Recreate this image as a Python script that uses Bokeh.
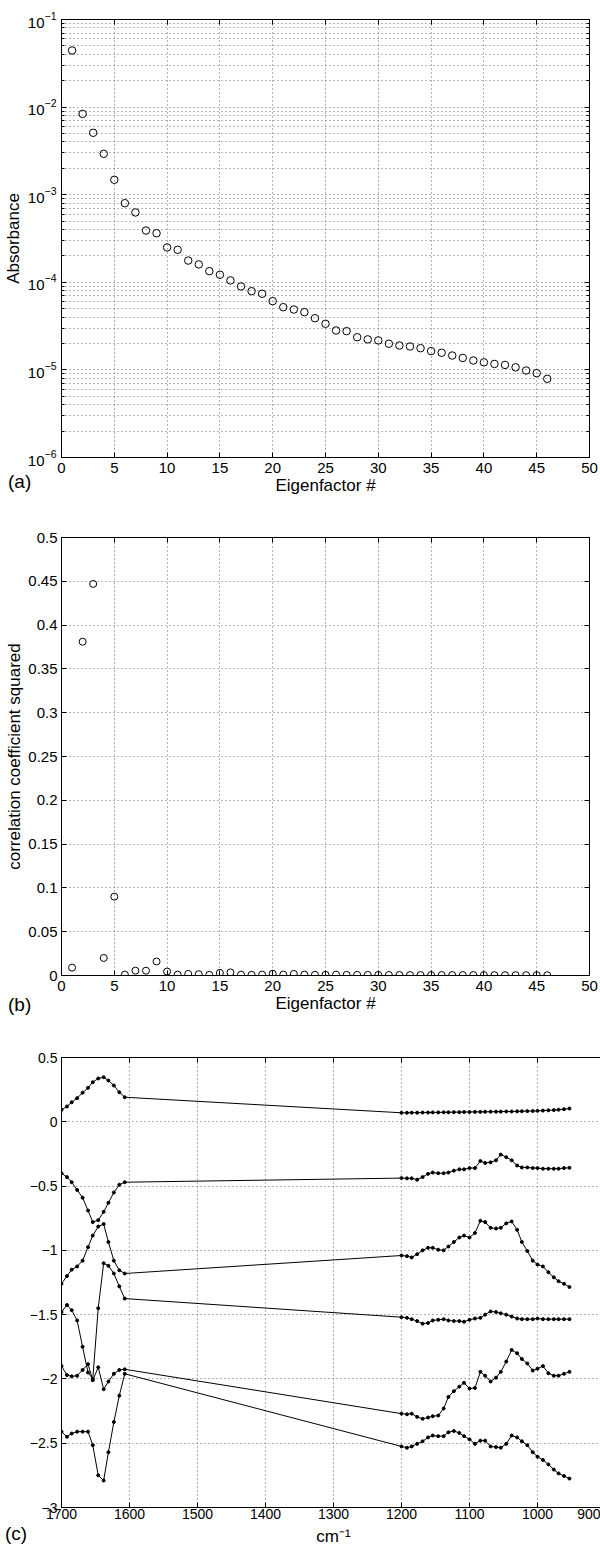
from bokeh.plotting import figure
from bokeh.layouts import column
from bokeh.models import (Range1d, FixedTicker, LinearAxis, Div,
                          CustomJSTickFormatter, LogTickFormatter)
from bokeh.embed import file_html
from bokeh.resources import INLINE

FONT = "Liberation Sans"

# ---------------- data ----------------
eigenfactor = list(range(1, 47))
absorbance = [0.0443, 0.00837, 0.00509, 0.00293, 0.00148, 0.00080, 0.000627, 0.00039,
              0.000363, 0.000250, 0.000235, 0.000177, 0.000160, 0.000134, 0.000122,
              0.000105, 8.96e-5, 7.92e-5, 7.4e-5, 6.09e-5, 5.2e-5, 4.89e-5, 4.56e-5,
              3.89e-5, 3.36e-5, 2.82e-5, 2.77e-5, 2.36e-5, 2.23e-5, 2.17e-5, 1.99e-5,
              1.90e-5, 1.85e-5, 1.77e-5, 1.64e-5, 1.57e-5, 1.46e-5, 1.37e-5, 1.28e-5,
              1.22e-5, 1.17e-5, 1.14e-5, 1.07e-5, 9.84e-6, 9.17e-6, 7.91e-6]
corr_sq = [0.009, 0.381, 0.447, 0.020, 0.090, 0.001, 0.0055, 0.0055, 0.016, 0.0045,
           0.001, 0.0018, 0.0015, 0.0008, 0.003, 0.0035, 0.001, 0.0008, 0.001, 0.002,
           0.001, 0.0018, 0.001, 0.0008, 0.0008, 0.001, 0.0007, 0.0007, 0.0007, 0.0006,
           0.0006, 0.0006, 0.0005, 0.0005, 0.0005, 0.0005, 0.0005, 0.0005, 0.0005, 0.0005,
           0.0004, 0.0004, 0.0004, 0.0004, 0.0004, 0.0003]

wn_hi = [1700, 1692, 1685, 1677, 1669, 1661, 1654, 1646, 1638, 1631, 1623, 1615, 1607]
wn_lo = [1200, 1192, 1185, 1177, 1169, 1161, 1154, 1146, 1138, 1131, 1123, 1115, 1108,
         1100, 1092, 1084, 1077, 1069, 1061, 1054, 1046, 1038, 1030, 1023, 1015, 1007,
         1000, 992, 984, 976, 969, 961, 953]

ef1_hi = [0.093, 0.119, 0.152, 0.184, 0.226, 0.264, 0.308, 0.337, 0.347, 0.321, 0.282, 0.230, 0.191]
ef1_lo = [0.070, 0.070, 0.071, 0.071, 0.072, 0.072, 0.073, 0.073, 0.074, 0.074, 0.075, 0.075,
          0.076, 0.076, 0.077, 0.077, 0.078, 0.078, 0.079, 0.079, 0.080, 0.080, 0.081, 0.082,
          0.083, 0.084, 0.085, 0.087, 0.089, 0.091, 0.094, 0.098, 0.103]
ef2_hi = [-0.40, -0.43, -0.47, -0.53, -0.59, -0.69, -0.78, -0.765, -0.70, -0.63, -0.55, -0.49, -0.47]
ef2_lo = [-0.438, -0.44, -0.44, -0.45, -0.43, -0.405, -0.395, -0.40, -0.40, -0.395, -0.38,
          -0.37, -0.37, -0.36, -0.36, -0.305, -0.32, -0.315, -0.30, -0.255, -0.275, -0.30,
          -0.34, -0.355, -0.355, -0.36, -0.36, -0.365, -0.365, -0.365, -0.365, -0.36, -0.358]
ef3_hi = [-1.26, -1.20, -1.15, -1.125, -1.08, -0.975, -0.885, -0.815, -0.795, -0.935, -1.08, -1.155, -1.18]
ef3_lo = [-1.04, -1.045, -1.055, -1.03, -1.00, -0.98, -0.98, -0.995, -1.0, -0.97, -0.935,
          -0.90, -0.885, -0.90, -0.865, -0.77, -0.78, -0.825, -0.83, -0.825, -0.79, -0.775,
          -0.84, -0.935, -1.005, -1.08, -1.11, -1.125, -1.17, -1.21, -1.24, -1.26, -1.285]
ef4_hi = [-1.48, -1.425, -1.465, -1.545, -1.75, -1.95, -2.0, -1.45, -1.10, -1.12, -1.18, -1.28, -1.375]
ef4_lo = [-1.52, -1.525, -1.535, -1.55, -1.57, -1.565, -1.545, -1.54, -1.535, -1.545, -1.55,
          -1.55, -1.555, -1.54, -1.53, -1.525, -1.50, -1.475, -1.48, -1.49, -1.50, -1.515,
          -1.53, -1.535, -1.535, -1.535, -1.53, -1.535, -1.535, -1.535, -1.535, -1.535, -1.535]
ef5_hi = [-1.90, -1.97, -1.98, -1.975, -1.93, -1.885, -2.01, -1.91, -2.08, -2.02, -1.96, -1.93, -1.925]
ef5_lo = [-2.27, -2.275, -2.27, -2.295, -2.31, -2.30, -2.29, -2.285, -2.23, -2.14, -2.095,
          -2.06, -2.03, -2.075, -2.07, -1.945, -1.975, -2.02, -1.99, -1.945, -1.865, -1.775,
          -1.80, -1.845, -1.88, -1.935, -1.92, -1.90, -1.955, -1.975, -1.975, -1.96, -1.945]
ef6_hi = [-2.41, -2.45, -2.425, -2.41, -2.41, -2.41, -2.515, -2.75, -2.79, -2.57, -2.335, -2.13, -1.96]
ef6_lo = [-2.525, -2.535, -2.525, -2.505, -2.485, -2.455, -2.44, -2.445, -2.445, -2.415,
          -2.405, -2.42, -2.445, -2.47, -2.505, -2.48, -2.48, -2.525, -2.53, -2.535, -2.505,
          -2.44, -2.455, -2.485, -2.515, -2.57, -2.605, -2.63, -2.665, -2.705, -2.735, -2.755, -2.775]

xticks_ab = [0, 5, 10, 15, 20, 25, 30, 35, 40, 45, 50]
yticks_a = [1e-6, 1e-5, 1e-4, 1e-3, 1e-2, 1e-1]
yticks_b = [0, 0.05, 0.1, 0.15, 0.2, 0.25, 0.3, 0.35, 0.4, 0.45, 0.5]
xticks_c = [900, 1000, 1100, 1200, 1300, 1400, 1500, 1600, 1700]
yticks_c = [-3, -2.5, -2, -1.5, -1, -0.5, 0, 0.5]
panel_tags = ["(a)", "(b)", "(c)"]

GRID_COLOR = "#6a6a6a"
GRID_DASH = "1 3"
PAGE_H = 1554


def make_fig(xr, yr, fw, fh, bl, br, bt, bb, ylog=False):
    p = figure(x_range=xr, y_range=yr, y_axis_type="log" if ylog else "linear",
               frame_width=fw, frame_height=fh,
               min_border_left=bl, min_border_right=br,
               min_border_top=bt, min_border_bottom=bb,
               output_backend="svg", toolbar_location=None)
    p.outline_line_color = "black"
    p.outline_line_width = 1
    p.background_fill_color = "white"
    p.border_fill_color = "white"
    return p


def style_axis(ax, ticks, size, minor_ticks=None):
    if minor_ticks is not None:
        ax.ticker = FixedTicker(ticks=ticks, minor_ticks=minor_ticks)
        ax.minor_tick_in = 3
        ax.minor_tick_out = 0
        ax.minor_tick_line_color = "black"
    else:
        ax.ticker = FixedTicker(ticks=ticks)
        ax.minor_tick_line_color = None
    ax.major_tick_in = 5
    ax.major_tick_out = 0
    ax.axis_line_color = "black"
    ax.major_tick_line_color = "black"
    ax.major_label_text_font = FONT
    ax.major_label_text_font_size = size
    ax.major_label_text_color = "black"
    ax.axis_label_text_font = FONT
    ax.axis_label_text_font_size = "17px"
    ax.axis_label_text_font_style = "normal"
    ax.axis_label_text_color = "black"


def add_box_axes(p, xticks, yticks, yminor=None):
    # MATLAB-style box: tick marks on the top and right edges, no labels
    top = LinearAxis()
    right = LinearAxis()
    style_axis(top, xticks, "8px")
    style_axis(right, yticks, "8px", yminor)
    for a in (top, right):
        a.major_label_standoff = 0
        a.axis_label = None
        a.formatter = CustomJSTickFormatter(code="return '';")
    p.add_layout(top, "above")
    p.add_layout(right, "right")


def style_grid(p, xticks, yticks, yminor=None):
    p.xgrid.ticker = FixedTicker(ticks=xticks)
    p.ygrid.ticker = FixedTicker(ticks=yticks, minor_ticks=yminor or [])
    for g in (p.xgrid, p.ygrid):
        g.grid_line_color = GRID_COLOR
        g.grid_line_dash = GRID_DASH
        g.grid_line_width = 1
    if yminor:
        p.ygrid.minor_grid_line_color = GRID_COLOR
        p.ygrid.minor_grid_line_dash = GRID_DASH
        p.ygrid.minor_grid_line_width = 1


# ---------------- panel (a) ----------------
minor_a = [m * d for d in yticks_a[:-1] for m in range(2, 10)]
pa = make_fig(Range1d(0, 50), Range1d(1e-6, 1e-1), 528, 438, 61, 11, 19, 58, ylog=True)
style_axis(pa.xaxis[0], xticks_ab, "15px")
style_axis(pa.yaxis[0], yticks_a, "15px", minor_a)
pa.yaxis[0].formatter = LogTickFormatter()
pa.xaxis[0].axis_label = "Eigenfactor #"
pa.yaxis[0].axis_label = "Absorbance"
pa.xaxis[0].major_label_standoff = 5
pa.xaxis[0].axis_label_standoff = 0
pa.yaxis[0].major_label_standoff = 5
pa.yaxis[0].axis_label_standoff = 2
style_grid(pa, xticks_ab, yticks_a, minor_a)
add_box_axes(pa, xticks_ab, yticks_a, minor_a)
pa.scatter(eigenfactor, absorbance, marker="circle", size=7.5,
           fill_color=None, line_color="black", line_width=1)

# ---------------- panel (b) ----------------
pb = make_fig(Range1d(0, 50), Range1d(0, 0.5), 528, 438, 61, 11, 22, 55)
style_axis(pb.xaxis[0], xticks_ab, "15px")
style_axis(pb.yaxis[0], yticks_b, "15px")
pb.yaxis[0].formatter = CustomJSTickFormatter(code="return String(tick);")
pb.xaxis[0].axis_label = "Eigenfactor #"
pb.yaxis[0].axis_label = "correlation coefficient squared"
pb.xaxis[0].major_label_standoff = 5
pb.xaxis[0].axis_label_standoff = 0
pb.yaxis[0].major_label_standoff = 4
pb.yaxis[0].axis_label_standoff = 1
style_grid(pb, xticks_ab, yticks_b)
add_box_axes(pb, xticks_ab, yticks_b)
pb.scatter(eigenfactor, corr_sq, marker="circle", size=7,
           fill_color=None, line_color="black", line_width=1)

# ---------------- panel (c) ----------------
pc = make_fig(Range1d(1700, 900), Range1d(-3, 0.5), 544, 450, 42, 14, 27, 47)
style_axis(pc.xaxis[0], xticks_c, "14px")
style_axis(pc.yaxis[0], yticks_c, "14px")
pc.yaxis[0].formatter = CustomJSTickFormatter(
    code="return String(tick).replace('-', '\u2212');")
pc.xaxis[0].axis_label = "cm\u207b\u00b9"
pc.xaxis[0].major_label_standoff = 1
pc.xaxis[0].axis_label_standoff = 5
pc.yaxis[0].major_label_standoff = 4
style_grid(pc, xticks_c, yticks_c)
add_box_axes(pc, xticks_c, yticks_c)

wn = wn_hi + wn_lo
for hi, lo in [(ef1_hi, ef1_lo), (ef2_hi, ef2_lo), (ef3_hi, ef3_lo),
               (ef4_hi, ef4_lo), (ef5_hi, ef5_lo), (ef6_hi, ef6_lo)]:
    ys = hi + lo
    pc.line(wn, ys, line_color="black", line_width=1)
    pc.scatter(wn, ys, marker="circle", size=3, fill_color="black", line_color="black")

# ---------------- panel tags (a), (b), (c) ----------------
# positioned relative to a zero-height block placed after the three figures
tag_pos = [(8, 472), (8, 995), (5, 1524)]
blocks = []
for tag, (lx, ty) in zip(panel_tags, tag_pos):
    blocks.append(
        f'<div style="position:relative;height:0;top:{ty - PAGE_H}px;left:{lx}px;'
        f'font-family:\'{FONT}\';font-size:19px;line-height:20px;color:black;'
        f'white-space:nowrap;">{tag}</div>')
tags = Div(text="".join(blocks), width=600, height=0, margin=0,
           styles={"overflow": "visible"})

layout = column(pa, pb, pc, tags, spacing=0)
open("out.html", "w").write(file_html(layout, INLINE))
